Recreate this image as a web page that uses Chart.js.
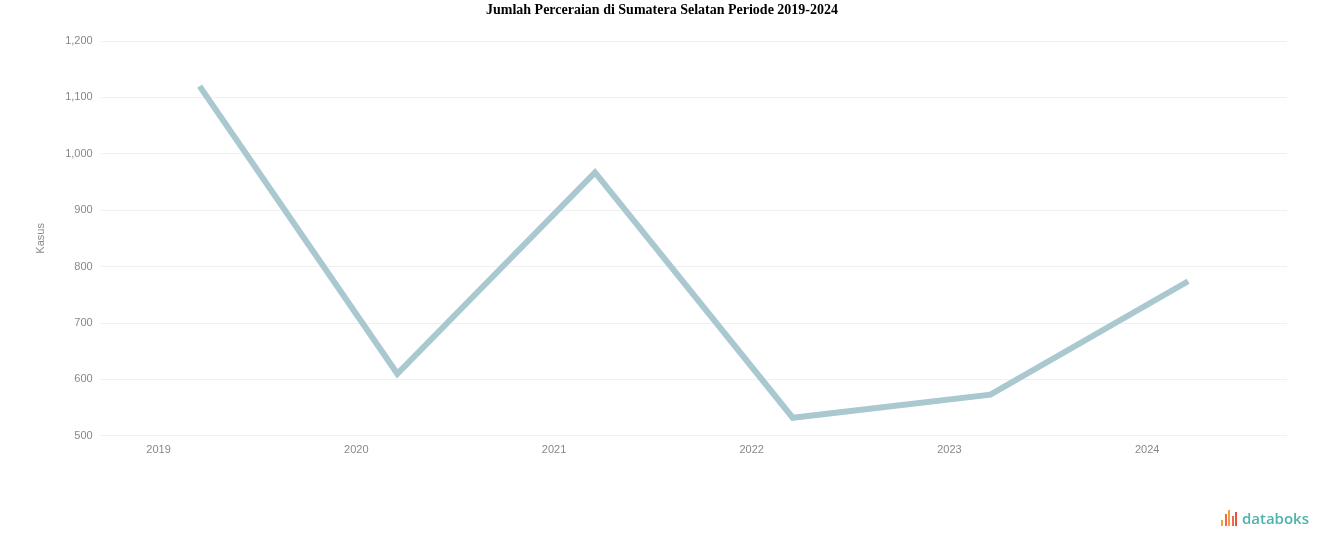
<!DOCTYPE html>
<html>
<head>
<meta charset="utf-8">
<script src="https://cdn.jsdelivr.net/npm/chart.js@4/dist/chart.umd.min.js"></script>
<style>
  html, body { margin: 0; padding: 0; background: #ffffff; }
  #wrap { position: relative; width: 1324px; height: 547px; }
  #title { position: absolute; left: 0; top: 2px; width: 1324px; text-align: center; font-family: "Liberation Serif", serif; font-size: 14px; font-weight: bold; color: #000; }
  #logo { position: absolute; right: 15px; bottom: 19px; font-family: "Open Sans", "DejaVu Sans", sans-serif; font-size: 15px; font-weight: 600; color: #4bb3ad; display: flex; align-items: center; }
  #logo .bars { display: inline-flex; align-items: flex-end; margin-right: 3px; height: 16px; }
  #logo .bars span { display: inline-block; width: 2px; margin-right: 1.5px; background: #ef6a4c; }
</style>
</head>
<body>
<div id="wrap">
  <canvas id="c" width="1324" height="547"></canvas>
  <div id="title"></div>
  <div id="logo"><span class="bars"><span style="height:6px;background:#f2a03d"></span><span style="height:12px"></span><span style="height:16px;background:#f2a03d"></span><span style="height:10px"></span><span style="height:14px;background:#e8533f"></span></span>databoks</div>
</div>
<script>
const titleText = "Jumlah Perceraian di Sumatera Selatan Periode 2019-2024";
const yAxisTitle = "Kasus";
const categories = ["2019", "2020", "2021", "2022", "2023", "2024"];
const divorces = [1120, 610, 967, 532, 573, 774];
const yMin = 500, yMax = 1200, yStep = 100;

document.getElementById('title').textContent = titleText;

new Chart(document.getElementById('c'), {
  type: 'line',
  data: {
    labels: categories,
    datasets: [{
      label: yAxisTitle,
      data: divorces,
      borderColor: '#a9c8d0',
      borderWidth: 6,
      pointRadius: 0,
      pointHoverRadius: 0,
      fill: false,
      tension: 0
    }]
  },
  options: {
    responsive: false,
    animation: false,
    layout: { padding: { top: 41, left: 30, right: 37, bottom: 82 } },
    plugins: {
      legend: { display: false },
      tooltip: { enabled: false },
      title: { display: false }
    },
    scales: {
      x: {
        offset: true,
        grid: { display: false, drawTicks: false },
        border: { display: false },
        ticks: { color: '#888', font: { family: 'Liberation Sans', size: 11 }, labelOffset: -41, padding: 8 }
      },
      y: {
        min: yMin, max: yMax,
        grid: { color: '#f0f0f0', drawTicks: false },
        border: { display: false },
        title: { display: true, text: yAxisTitle, color: '#888', font: { family: 'Liberation Sans', size: 11 }, padding: { bottom: 10 } },
        ticks: {
          stepSize: yStep, color: '#888', padding: 8,
          font: { family: 'Liberation Sans', size: 11 },
          callback: v => v.toLocaleString('en-US')
        }
      }
    }
  }
});
</script>
</body>
</html>
